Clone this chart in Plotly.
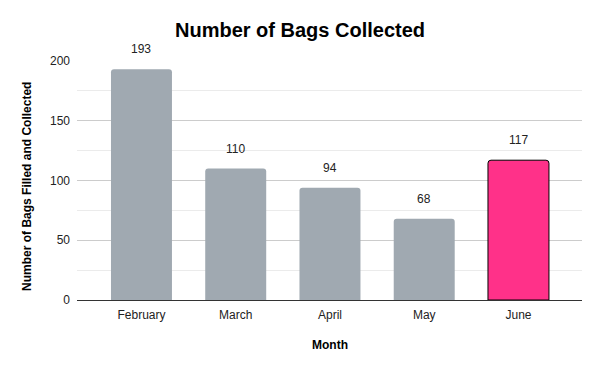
import plotly.graph_objects as go

months = ["February", "March", "April", "May", "June"]
bags = [193, 110, 94, 68, 117]
bar_colors = ["#A0A9B1", "#A0A9B1", "#A0A9B1", "#A0A9B1", "#FF3189"]
line_colors = ["#A0A9B1", "#A0A9B1", "#A0A9B1", "#A0A9B1", "#000000"]
line_widths = [0, 0, 0, 0, 1]

font_family = "Arial, Liberation Sans, sans-serif"

fig = go.Figure()
fig.add_trace(go.Bar(
    x=months, y=bags,
    marker=dict(color=bar_colors, line=dict(color=line_colors, width=line_widths), cornerradius=3),
    width=0.647,
))

for m, v in zip(months, bags):
    fig.add_annotation(x=m, y=v, text=str(v), showarrow=False, yanchor="middle",
                       yshift=20, font=dict(family=font_family, size=12, color="#222222"))

# axis titles
fig.add_annotation(xref="paper", yref="paper", x=-0.099, y=0.473, xanchor="center", yanchor="middle",
                   text="<b>Number of Bags Filled and Collected</b>", textangle=-90, showarrow=False,
                   font=dict(family=font_family, size=12, color="#000000"))
fig.add_annotation(xref="paper", yref="paper", x=0.5, y=-45/239, xanchor="center", yanchor="middle",
                   text="<b>Month</b>", showarrow=False,
                   font=dict(family=font_family, size=12, color="#000000"))

fig.update_layout(
    width=600, height=371,
    margin=dict(l=77, r=18, t=61, b=71),
    paper_bgcolor="white", plot_bgcolor="white",
    title=dict(text="<b>Number of Bags Collected</b>", x=0.5, xanchor="center", y=1 - 30/371, yanchor="middle",
               font=dict(family=font_family, size=20, color="#000000")),
    showlegend=False,
    font=dict(family=font_family, size=12, color="#222222"),
)
fig.update_xaxes(
    range=[-0.684, 4.674],
    showgrid=False, showline=True, linecolor="#333333", linewidth=1,
    ticks="", ticklabelstandoff=4, tickfont=dict(size=12, color="#222222"),
)
fig.update_yaxes(
    range=[0, 200], tickvals=[0, 50, 100, 150, 200],
    showgrid=True, gridcolor="#CCCCCC", gridwidth=1,
    minor=dict(tickvals=[25, 75, 125, 175], showgrid=True, gridcolor="#EBEBEB", gridwidth=1),
    zeroline=False, ticks="", ticklabelstandoff=6,
    tickfont=dict(size=12, color="#222222"),
)

fig.write_html("out.html")
